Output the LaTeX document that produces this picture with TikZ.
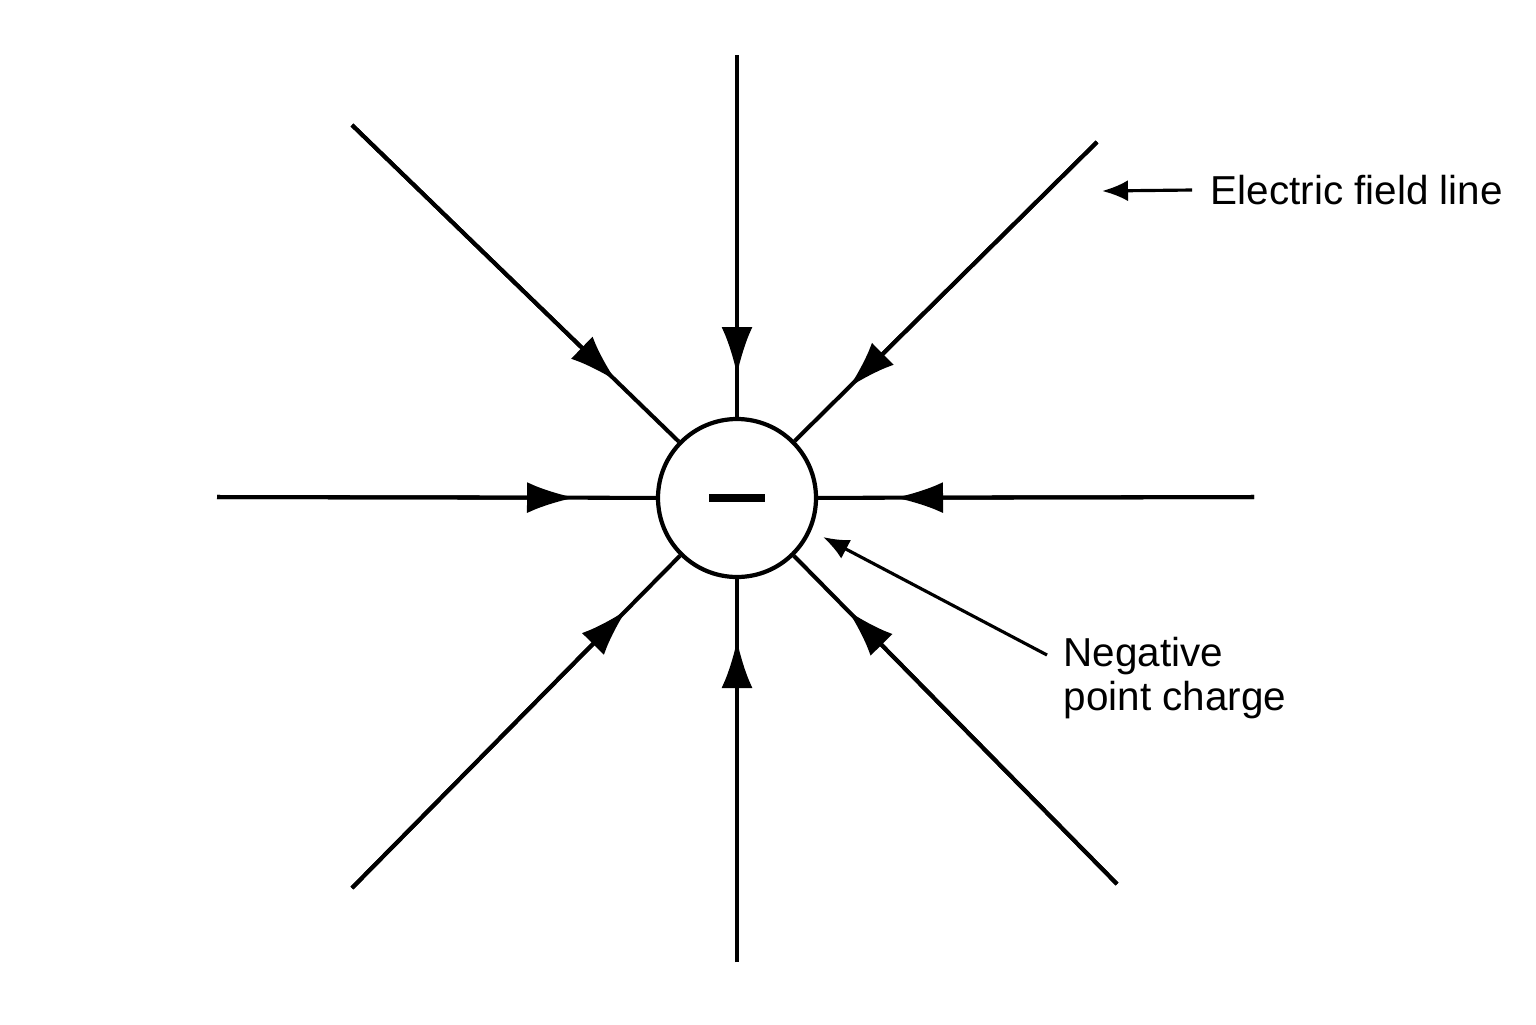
\documentclass[tikz,border=0pt]{standalone}
\usepackage{fontspec}
\setmainfont{Liberation Sans}
\usetikzlibrary{arrows.meta,calc}
\tikzset{
  charge/.style={draw, circle, line width=1.2pt, minimum size=1.58cm, inner sep=0pt, fill=white},
  fieldline/.style={line width=1.15pt},
  fieldarrow/.style={line width=1.15pt, -{Latex[length=4.8mm, width=3.1mm]}},
  labelarrow/.style={line width=0.9pt, -{Latex[length=2.6mm, width=2.1mm]}},
  labeltext/.style={align=left, font=\fontsize{11.5}{12.6}\selectfont, inner sep=0pt}
}
\begin{document}
\begin{tikzpicture}
\useasboundingbox[fill=white] (0,0) rectangle (15.36,-10.24);
\node[charge] (ch) at (7.37,-4.98) {};
\draw[line width=0.08cm] ($(ch)+(-0.28,0)$) -- ($(ch)+(0.28,0)$);
% field lines pointing into the charge
\foreach \name/\x/\y/\d in {top/7.37/-0.55/1.23, bottom/7.37/-9.62/1.42,
    left/2.17/-4.97/1.62, right/12.54/-4.97/1.58,
    tl/3.52/-1.25/1.68, tr/10.97/-1.42/1.57,
    bl/3.52/-8.88/1.57, br/11.17/-8.84/1.58}{
  \coordinate (\name) at (\x,\y);
  \draw[fieldline] (\name) -- (ch);
  \draw[fieldarrow] (\name) -- ($(ch)!\d cm!(\name)$);
}
% labels
\node[labeltext, anchor=west] (fieldlbl) at (12.1,-1.90) {Electric field line};
\coordinate (fieldtip) at (11.02,-1.91);
\draw[labelarrow] ([xshift=-1.8mm]fieldlbl.west) -- (fieldtip);
\node[labeltext, anchor=north west] (chargelbl) at (10.63,-6.36) {Negative\\point charge};
\coordinate (chargetip) at (8.23,-5.37);
\draw[labelarrow] (10.47,-6.55) -- (chargetip);
\end{tikzpicture}
\end{document}
